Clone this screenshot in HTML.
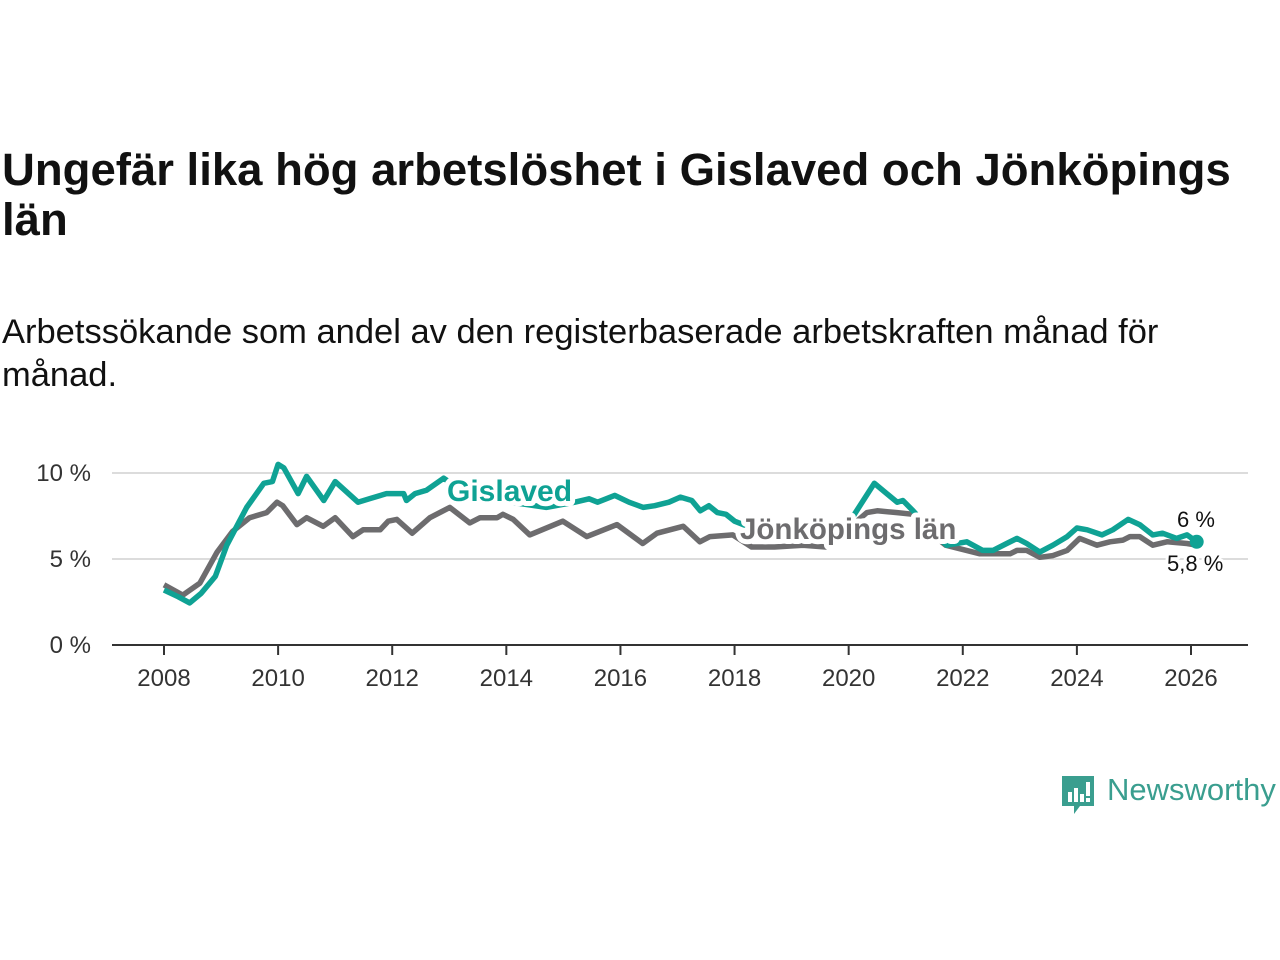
<!DOCTYPE html>
<html><head><meta charset="utf-8">
<style>
body{margin:0;background:#fff;font-family:"Liberation Sans",sans-serif;}
#wrap{position:relative;width:1280px;height:960px;overflow:hidden;}
h1{position:absolute;left:2px;top:145px;margin:0;font-size:45.5px;line-height:50px;font-weight:bold;color:#111;width:1250px;}
p.sub{position:absolute;left:2px;top:311px;margin:0;font-size:34.5px;line-height:43px;color:#111;width:1200px;}
svg{position:absolute;left:0;top:0;}
</style></head><body>
<div id="wrap">
<h1>Ungefär lika hög arbetslöshet i Gislaved och Jönköpings län</h1>
<p class="sub">Arbetssökande som andel av den registerbaserade arbetskraften månad för månad.</p>
<svg id="chart" width="1280" height="960"></svg>
<div style="position:absolute;left:1060px;top:774px;height:44px;">
<svg width="36" height="44" style="position:absolute;left:0;top:0">
<path d="M2 2h32v30h-14l-6 8v-8H2z" fill="#3a9e8f"/>
<rect x="8" y="18" width="4" height="10" fill="#fff"/><rect x="14" y="14" width="4" height="14" fill="#fff"/><rect x="20" y="20" width="4" height="8" fill="#fff"/><rect x="26" y="8" width="4" height="14" fill="#fff"/><rect x="26" y="24" width="4" height="4" fill="#fff"/>
</svg>
<span style="position:absolute;left:47px;top:-2px;font-size:31px;color:#3a9e8f;white-space:nowrap;">Newsworthy</span>
</div>
</div>
<script>
const gisYears=[2008.0,2008.25,2008.45,2008.65,2008.9,2009.1,2009.45,2009.75,2009.9,2010.0,2010.1,2010.35,2010.5,2010.8,2011.0,2011.4,2011.6,2011.9,2012.2,2012.25,2012.4,2012.6,2012.9,2013.3,2013.8,2014.3,2014.7,2015.2,2015.45,2015.6,2015.9,2016.15,2016.4,2016.6,2016.85,2017.05,2017.25,2017.4,2017.55,2017.7,2017.85,2018.0,2018.3,2018.7,2019.1,2019.5,2019.9,2020.1,2020.45,2020.85,2020.95,2021.13,2021.4,2021.72,2022.07,2022.35,2022.53,2022.77,2022.95,2023.12,2023.35,2023.58,2023.83,2024.0,2024.18,2024.44,2024.63,2024.9,2025.1,2025.33,2025.5,2025.75,2025.93,2026.1];
const gisValues=[3.2,2.8,2.45,3.0,4.0,5.8,8.0,9.4,9.5,10.5,10.3,8.8,9.8,8.4,9.5,8.3,8.5,8.8,8.8,8.4,8.8,9.0,9.7,8.8,8.4,8.2,8.0,8.3,8.5,8.3,8.7,8.3,8.0,8.1,8.3,8.6,8.4,7.8,8.1,7.7,7.6,7.2,6.8,6.3,6.2,6.3,6.6,7.6,9.4,8.3,8.4,7.8,6.8,5.8,6.0,5.5,5.5,5.9,6.2,5.9,5.4,5.8,6.3,6.8,6.7,6.4,6.7,7.3,7.0,6.4,6.5,6.2,6.4,6.0];
const jkpYears=[2008.0,2008.33,2008.63,2008.93,2009.2,2009.5,2009.8,2009.98,2010.08,2010.33,2010.5,2010.79,2011.0,2011.31,2011.49,2011.79,2011.93,2012.08,2012.35,2012.66,2013.01,2013.36,2013.54,2013.84,2013.94,2014.12,2014.41,2014.99,2015.41,2015.94,2016.39,2016.64,2017.1,2017.39,2017.57,2017.97,2018.3,2018.7,2019.2,2019.6,2019.9,2020.32,2020.5,2020.85,2021.13,2021.4,2021.7,2022.3,2022.83,2022.95,2023.12,2023.35,2023.58,2023.83,2024.05,2024.35,2024.58,2024.81,2024.93,2025.1,2025.33,2025.58,2025.93,2026.1];
const jkpValues=[3.5,2.9,3.6,5.4,6.6,7.4,7.7,8.3,8.1,7.0,7.4,6.9,7.4,6.3,6.7,6.7,7.2,7.3,6.5,7.4,8.0,7.1,7.4,7.4,7.6,7.3,6.4,7.2,6.3,7.0,5.9,6.5,6.9,6.0,6.3,6.4,5.7,5.7,5.8,5.7,6.5,7.7,7.8,7.7,7.6,6.6,5.8,5.3,5.3,5.5,5.5,5.1,5.2,5.5,6.2,5.8,6.0,6.1,6.3,6.3,5.8,6.0,5.9,5.8];
const yTicks=[0,5,10];
const yTickLabels=["0 %","5 %","10 %"];
const xTicks=[2008,2010,2012,2014,2016,2018,2020,2022,2024,2026];

const NS="http://www.w3.org/2000/svg";
const svg=document.getElementById('chart');
const X=y=>164+(y-2008)*(1191-164)/18;
const Y=v=>645-v*17.2;
function mk(tag,attrs,parent){const e=document.createElementNS(NS,tag);for(const k in attrs)e.setAttribute(k,attrs[k]);(parent||svg).appendChild(e);return e;}
yTicks.forEach((t,i)=>{
  if(t>0){const g=mk('line',{x1:112,x2:1248,y1:Y(t),y2:Y(t),stroke:'#dcdcdc','stroke-width':2});
  
  }
  const l=mk('text',{x:91,y:Y(t)+8,'text-anchor':'end','font-size':24,fill:'#333'});
  l.textContent=yTickLabels[i];
  
  
});
const ax=mk('line',{x1:112,x2:1248,y1:645,y2:645,stroke:'#333','stroke-width':2});


xTicks.forEach(t=>{
  const tk=mk('line',{x1:X(t),x2:X(t),y1:645,y2:655,stroke:'#333','stroke-width':2});
  
  
  const l=mk('text',{x:X(t),y:686,'text-anchor':'middle','font-size':24,fill:'#333'});
  l.textContent=t;
  
  
});
function path(ys,vs){return ys.map((y,i)=>(i?'L':'M')+X(y).toFixed(1)+' '+Y(vs[i]).toFixed(1)).join(' ');}
const jl=mk('path',{d:path(jkpYears,jkpValues),fill:'none',stroke:'#6d6c6e','stroke-width':5.5,'stroke-linejoin':'round'});


const gl=mk('path',{d:path(gisYears,gisValues),fill:'none',stroke:'#0fa294','stroke-width':5.5,'stroke-linejoin':'round'});


const dot=mk('circle',{cx:X(gisYears[gisYears.length-1]),cy:Y(gisValues[gisValues.length-1]),r:7,fill:'#0fa294'});


function lab(txt,x,y,size,fill,bold,name){
  const t=mk('text',{x:x,y:y,'font-size':size,fill:fill,'font-weight':bold?'bold':'normal',stroke:'#fff','stroke-width':bold?10:6,'paint-order':'stroke','stroke-linejoin':'round'});
  t.textContent=txt;
  
  
}
lab('Gislaved',447,501,30,'#0fa294',true,'gislaved-series-label');
lab('Jönköpings län',740,539,29.5,'#6d6c6e',true,'jonkopings-series-label');
lab('6 %',1177,527,22,'#111',false,'gislaved-end-value');
lab('5,8 %',1167,571,22,'#111',false,'jonkopings-end-value');
</script>
</body></html>
